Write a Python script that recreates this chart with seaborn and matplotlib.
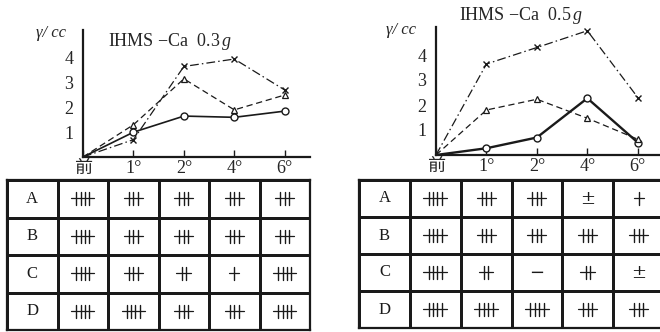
import numpy as np
import pandas as pd
import matplotlib.pyplot as plt
import seaborn as sns
from matplotlib.colors import ListedColormap

# time points (before, 1h, 2h, 4h, 6h)
times = ["前", "1°", "2°", "4°", "6°"]

# left panel: IHMS-Ca 0.3 g
left_circle = [0, 1.0, 1.65, 1.6, 1.85]
left_triangle = [0, 1.3, 3.15, 1.9, 2.5]
left_cross = [0, 0.7, 3.65, 3.95, 2.7]

# right panel: IHMS-Ca 0.5 g
right_circle = [0, 0.27, 0.7, 2.27, 0.5]
right_triangle = [0, 1.8, 2.23, 1.47, 0.63]
right_cross = [0, 3.64, 4.3, 4.97, 2.3]

# table grades
row_names = ["A", "B", "C", "D"]
left_grades = [
    ["++++", "+++", "+++", "+++", "+++"],
    ["++++", "+++", "+++", "+++", "+++"],
    ["++++", "+++", "++", "+", "++++"],
    ["++++", "++++", "+++", "+++", "++++"],
]
right_grades = [
    ["++++", "+++", "+++", "±", "+"],
    ["++++", "+++", "+++", "+++", "+++"],
    ["++++", "++", "−", "++", "±"],
    ["++++", "++++", "++++", "+++", "+++"],
]

sns.set_theme(style="white")
plt.rcParams["font.family"] = ["Liberation Serif", "Noto Sans CJK JP"]
plt.rcParams["axes.unicode_minus"] = False
plt.rcParams["mathtext.fontset"] = "custom"
plt.rcParams["mathtext.it"] = "Liberation Serif:italic"
plt.rcParams["mathtext.rm"] = "Liberation Serif"


def draw_lines(ax, circle, triangle, cross, circle_lw):
    """Line panel with three series."""
    x = np.arange(len(times))
    df = pd.DataFrame({"x": x, "circle": circle, "triangle": triangle, "cross": cross})
    sns.lineplot(data=df, x="x", y="circle", ax=ax, color="k", lw=circle_lw,
                 marker="o", markersize=5, markerfacecolor="white",
                 markeredgecolor="k", markeredgewidth=1.0,
                 markevery=[1, 2, 3, 4], sort=False)
    sns.lineplot(data=df, x="x", y="triangle", ax=ax, color="k", lw=0.9,
                 linestyle=(0, (5, 3)), marker="^", markersize=4.5,
                 markerfacecolor="white", markeredgecolor="k",
                 markeredgewidth=0.9, markevery=[1, 2, 3, 4], sort=False)
    sns.lineplot(data=df, x="x", y="cross", ax=ax, color="k", lw=0.9,
                 linestyle=(0, (7, 2.5, 1.2, 2.5)), marker="x", markersize=4.5,
                 markeredgecolor="k", markeredgewidth=1.0,
                 markevery=[1, 2, 3, 4], sort=False)
    ax.set_xlim(0, 4.5)
    ax.set_ylim(0, 5.1)
    ax.set_xticks(x, times)
    ax.set_yticks([1, 2, 3, 4], ["1", "2", "3", "4"])
    ax.set_xlabel("")
    ax.set_ylabel("")
    ax.tick_params(axis="x", direction="in", length=5, width=1, pad=2,
                   labelsize=13, bottom=True, color="k")
    ax.tick_params(axis="y", length=0, pad=7, labelsize=13)
    for s in ["top", "right"]:
        ax.spines[s].set_visible(False)
    for s in ["left", "bottom"]:
        ax.spines[s].set_linewidth(1.6)
        ax.spines[s].set_color("k")
    ax.patch.set_alpha(0)


def draw_grade(ax, cx, cy, grade):
    """Tally-style grade inside a table cell."""
    if grade in ("±", "−"):
        ax.text(cx, cy, grade, ha="center", va="center", fontsize=13,
                color="k", family="DejaVu Serif")
        return
    n = grade.count("+")
    dx = 0.088
    xs = [cx + (k - (n - 1) / 2) * dx for k in range(n)]
    for xv in xs:
        ax.plot([xv, xv], [cy - 0.17, cy + 0.17], color="k", lw=1.0)
    ax.plot([xs[0] - 0.1, xs[-1] + 0.1], [cy - 0.02, cy - 0.02], color="k", lw=0.9)


def draw_table(ax, grades):
    grid = np.zeros((len(row_names), len(times) + 1))
    sns.heatmap(grid, ax=ax, cmap=ListedColormap(["white"]), cbar=False,
                linewidths=1.0, linecolor="k", xticklabels=False, yticklabels=False)
    for s in ax.spines.values():
        s.set_visible(True)
        s.set_linewidth(1.6)
        s.set_color("k")
    for i, name in enumerate(row_names):
        ax.text(0.5, i + 0.5, name, ha="center", va="center", fontsize=12, color="k")
        for j, g in enumerate(grades[i]):
            draw_grade(ax, j + 1.5, i + 0.5, g)


fig = plt.figure(figsize=(6.6, 3.32), dpi=100)

ax1 = fig.add_axes([83 / 660, 1 - 157 / 332, 227 / 660, 126.5 / 332])
draw_lines(ax1, left_circle, left_triangle, left_cross, 1.2)

ax2 = fig.add_axes([436 / 660, 1 - 155 / 332, 227 / 660, 127.5 / 332])
draw_lines(ax2, right_circle, right_triangle, right_cross, 1.7)

t1 = fig.add_axes([7 / 660, 2 / 332, 303 / 660, 150 / 332])
draw_table(t1, left_grades)

t2 = fig.add_axes([359 / 660, 4 / 332, 305 / 660, 148 / 332])
draw_table(t2, right_grades)

fig.text(170 / 660, 1 - 42 / 332, "IHMS −Ca  0.3$\\,g$", ha="center", va="center",
         fontsize=13)
fig.text(521 / 660, 1 - 15 / 332, "IHMS −Ca  0.5$\\,g$", ha="center", va="center",
         fontsize=13)
fig.text(36 / 660, 1 - 33 / 332, "γ/ cc", ha="left", va="center",
         fontsize=12, style="italic")
fig.text(386 / 660, 1 - 30 / 332, "γ/ cc", ha="left", va="center",
         fontsize=12, style="italic")

fig.savefig("out.png", dpi=100, facecolor="white")
